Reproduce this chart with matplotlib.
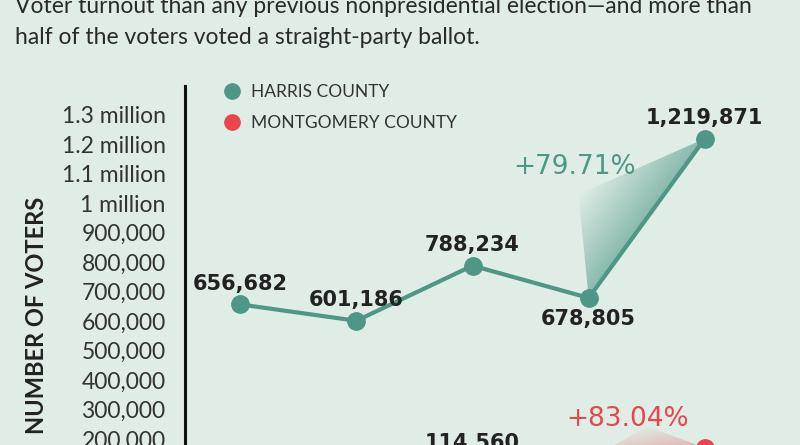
import numpy as np
import matplotlib
matplotlib.use('Agg')
import matplotlib.pyplot as plt
from matplotlib.lines import Line2D
from matplotlib.patches import Polygon
from matplotlib.colors import to_rgb

# data
years = [2002, 2006, 2010, 2014, 2018]
harris = [656682, 601186, 788234, 678805, 1219871]
montgomery = [55000, 60000, 114560, 92876, 170000]
harris_change = '+79.71%'
montgomery_change = '+83.04%'
series_names = ['HARRIS COUNTY', 'MONTGOMERY COUNTY']
ytick_vals = [200000, 300000, 400000, 500000, 600000, 700000, 800000,
              900000, 1000000, 1100000, 1200000, 1300000]
ytick_labels = ['200,000', '300,000', '400,000', '500,000', '600,000', '700,000',
                '800,000', '900,000', '1 million', '1.1 million', '1.2 million',
                '1.3 million']
intro = ['Voter turnout than any previous nonpresidential election\u2014and more than',
         'half of the voters voted a straight-party ballot.']

BG = '#dfede6'
TEAL = '#4e9686'
RED = '#e8464a'
INK = '#222222'

W, H = 800, 445
fig = plt.figure(figsize=(W / 100, H / 100), dpi=100, facecolor=BG)

# axes runs off the bottom of the picture, like the cropped original
ax = fig.add_axes([185 / W, (H - 497.85) / H, (792 - 185) / W, (497.85 - 85.5) / H])
ax.set_facecolor(BG)


def grad_triangle(ax, pts, color, amax):
    # triangle filled with alpha fading from the apex (pts[0]) to the opposite edge
    poly = Polygon(pts, closed=True, facecolor='none', edgecolor='none')
    ax.add_patch(poly)
    (x0, y0), (x1, y1), (x2, y2) = pts
    xs = np.linspace(min(x0, x1, x2), max(x0, x1, x2), 300)
    ys = np.linspace(min(y0, y1, y2), max(y0, y1, y2), 300)
    X, Y = np.meshgrid(xs, ys)
    det = (y1 - y2) * (x0 - x2) + (x2 - x1) * (y0 - y2)
    lam = ((y1 - y2) * (X - x2) + (x2 - x1) * (Y - y2)) / det
    arr = np.zeros(X.shape + (4,))
    arr[..., :3] = to_rgb(color)
    arr[..., 3] = np.clip(1 - lam, 0, 1) * amax
    im = ax.imshow(arr, extent=[xs[0], xs[-1], ys[0], ys[-1]], origin='lower',
                   aspect='auto', interpolation='bilinear', zorder=1)
    im.set_clip_path(poly)


# shaded jump between the last two elections
h_diff = harris[4] - harris[3]
m_diff = montgomery[4] - montgomery[3]
grad_triangle(ax, [(years[3] - 0.35, harris[3] + 0.65 * h_diff),
                   (years[3], harris[3]), (years[4], harris[4])], TEAL, 0.6)
grad_triangle(ax, [(years[3] + 2.0, montgomery[4] + 0.95 * m_diff),
                   (years[3] - 0.6, montgomery[3]), (years[4], montgomery[4])], RED, 0.35)

# which labels sit under their point
below = {'h': [3], 'm': [3, 4]}
for key, vals, col in [('h', harris, TEAL), ('m', montgomery, RED)]:
    ax.plot(years, vals, color=col, lw=3, marker='o', ms=12.5, mec=col, zorder=3,
            solid_capstyle='round')
    for i, (x, v) in enumerate(zip(years, vals)):
        dn = i in below[key]
        ax.annotate(f'{v:,}', (x, v), xytext=(0, -15 if dn else 15),
                    textcoords='offset points', ha='center',
                    va='center', fontsize=15, fontweight='bold', color=INK,
                    family='DejaVu Sans', zorder=4)

ax.text(years[3] - 0.47, harris[3] + 0.82 * h_diff, harris_change,
        color=TEAL, fontsize=19, ha='center', va='center', family='DejaVu Sans')
ax.text(years[3] + 1.35, montgomery[4] + 1.25 * m_diff,
        montgomery_change, color=RED, fontsize=19, ha='center', va='center',
        family='DejaVu Sans')

ax.set_xlim(2000.1, 2021)
ax.set_ylim(0, 1400000)
ax.set_yticks(ytick_vals)
ax.set_yticklabels(ytick_labels, fontsize=16.5, color='#333333', family='Lato')
ax.tick_params(axis='y', length=0, pad=14)
ax.set_xticks([])
for s in ['top', 'right', 'bottom']:
    ax.spines[s].set_visible(False)
ax.spines['left'].set_linewidth(2.2)
ax.spines['left'].set_color('#111111')

handles = [Line2D([], [], ls='none', marker='o', ms=11, color=c) for c in (TEAL, RED)]
ax.legend(handles, series_names, loc='upper left', bbox_to_anchor=(223 / W, 1 - 84 / H),
          bbox_transform=fig.transFigure, frameon=False, borderpad=0, borderaxespad=0,
          handlelength=1.0, handletextpad=0.6, labelspacing=0.85,
          prop={'family': 'Lato', 'size': 12.5}, labelcolor='#333333')

fig.text(37 / W, 1 - 315 / H, 'NUMBER OF VOTERS', rotation=90, ha='center', va='center',
         fontsize=17, fontweight='bold', color=INK, family='Lato')

fig.text(15 / W, 1 - 13 / H, intro[0], fontsize=16.5, color='#2a2a2a', family='Lato',
         va='baseline')
fig.text(15 / W, 1 - 44 / H, intro[1], fontsize=16.5, color='#2a2a2a', family='Lato',
         va='baseline')

fig.savefig('out.png', dpi=100, facecolor=BG)
